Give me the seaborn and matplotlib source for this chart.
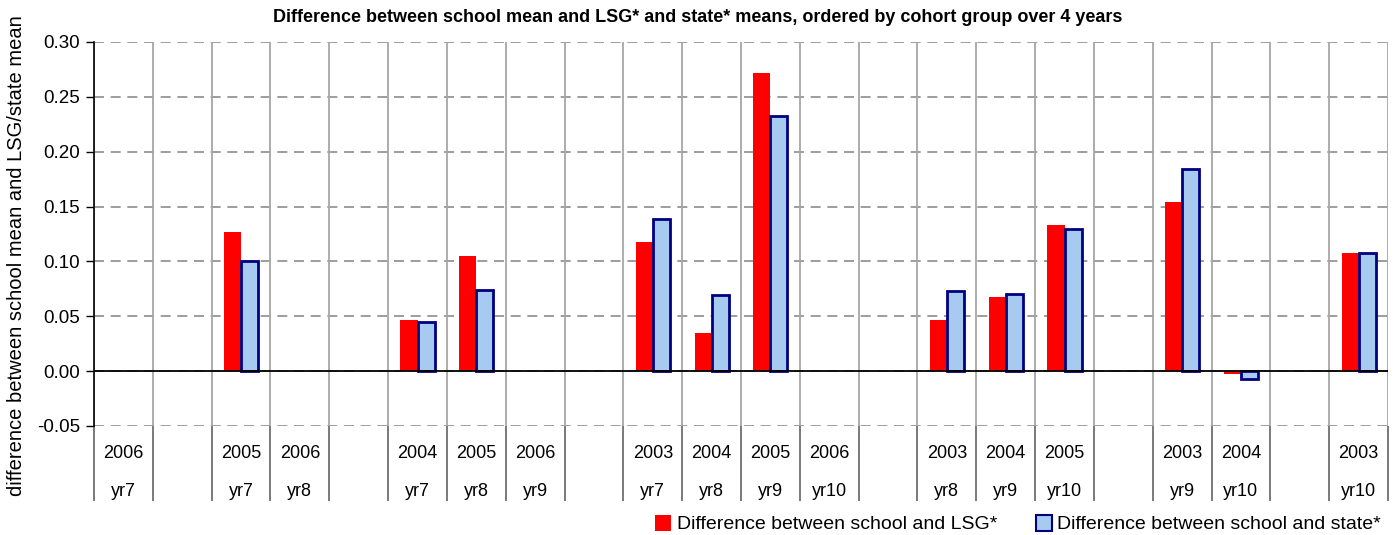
import numpy as np
import pandas as pd
import matplotlib
matplotlib.use("Agg")
import matplotlib.pyplot as plt
import matplotlib.transforms as mtransforms
from matplotlib.patches import Patch
import seaborn as sns

# cohort slots (blank slots separate the cohort groups)
years = ["2006", "", "2005", "2006", "", "2004", "2005", "2006", "", "2003", "2004",
         "2005", "2006", "", "2003", "2004", "2005", "", "2003", "2004", "", "2003"]
levels = ["yr7", "", "yr7", "yr8", "", "yr7", "yr8", "yr9", "", "yr7", "yr8",
          "yr9", "yr10", "", "yr8", "yr9", "yr10", "", "yr9", "yr10", "", "yr10"]
lsg = [np.nan, np.nan, 0.127, np.nan, np.nan, 0.047, 0.105, np.nan, np.nan, 0.118, 0.035,
       0.272, np.nan, np.nan, 0.047, 0.068, 0.133, np.nan, 0.154, -0.003, np.nan, 0.108]
state = [np.nan, np.nan, 0.100, np.nan, np.nan, 0.045, 0.074, np.nan, np.nan, 0.139, 0.069,
         0.233, np.nan, np.nan, 0.073, 0.070, 0.130, np.nan, 0.184, -0.007, np.nan, 0.108]
series_names = ["Difference between school and LSG*", "Difference between school and state*"]

slots = [f"s{i}" for i in range(len(years))]
df = pd.DataFrame({
    "slot": slots * 2,
    "value": lsg + state,
    "series": [series_names[0]] * len(slots) + [series_names[1]] * len(slots),
})

sns.set_style("white")
plt.rcParams["font.family"] = ["Liberation Sans", "DejaVu Sans"]
plt.rcParams["text.color"] = "black"
plt.rcParams["axes.labelcolor"] = "black"
plt.rcParams["ytick.color"] = "black"

red = "#FF0000"
blue = "#A6CAF0"
navy = "#000080"

fig = plt.figure(figsize=(13.96, 5.35), dpi=100)
ax = fig.add_axes([94 / 1396, 1 - 426 / 535, (1388 - 94) / 1396, (426 - 42) / 535])

sns.barplot(data=df, x="slot", y="value", hue="series", order=slots,
            hue_order=series_names, palette=[red, blue], saturation=1,
            width=0.58, gap=0, errorbar=None, ax=ax, zorder=3)
if ax.get_legend() is not None:
    ax.get_legend().remove()

for p in ax.containers[0]:
    p.set_linewidth(0)
for p in ax.containers[1]:
    p.set_edgecolor(navy)
    p.set_linewidth(2)

n = len(slots)
ax.set_xlim(-0.5, n - 0.5)
ax.set_ylim(-0.05, 0.30)
yt = np.arange(-0.05, 0.301, 0.05)
ax.set_yticks(yt)
ax.set_yticklabels([f"{v:.2f}" for v in yt], fontsize=13.5, color="black")
ax.yaxis.grid(True, color="#8c8c8c", linestyle=(0, (6, 4)), linewidth=1.2)
ax.axhline(0, color="black", linewidth=1.3, zorder=4)

# category boundaries: light lines inside, darker separators below
bounds = np.arange(-0.5, n, 1.0)
ax.vlines(bounds, -0.05, 0.30, color="#a6a6a6", linewidth=1.3, zorder=1)
ax.set_xticks(bounds, minor=True)
ax.set_xticks([])
ax.tick_params(axis="x", which="minor", length=54, width=1.1, color="#555555",
               direction="out", bottom=True)
ax.tick_params(axis="y", which="major", length=6, width=1, color="black",
               direction="out", left=True, pad=4)

for s in ["top", "right", "bottom"]:
    ax.spines[s].set_visible(False)
ax.spines["left"].set_color("black")
ax.spines["left"].set_linewidth(1.2)

trans = mtransforms.blended_transform_factory(ax.transData, ax.transAxes)
for i in range(n):
    ax.text(i, -27 / 384, years[i], transform=trans, ha="center", va="center", fontsize=13)
    ax.text(i, -65 / 384, levels[i], transform=trans, ha="center", va="center", fontsize=13)

ax.set_xlabel("")
ax.set_ylabel("difference between school mean and LSG/state mean", fontsize=14.5)
ax.yaxis.set_label_coords(-68 / 1294, (426 - 256) / 384)

fig.text(0.5, 1 - 17 / 535,
         "Difference between school mean and LSG* and state* means, ordered by cohort group over 4 years",
         ha="center", va="center", fontsize=13, fontweight="bold")

handles = [Patch(facecolor=red, edgecolor="none"),
           Patch(facecolor=blue, edgecolor=navy, linewidth=1.5)]
fig.legend(handles, series_names, loc="center right", bbox_to_anchor=(0.995, 1 - 524 / 535),
           ncol=2, frameon=False, fontsize=14, handlelength=0.8, handleheight=0.9,
           handletextpad=0.3, columnspacing=2.0, borderaxespad=0)

fig.savefig("out.png", dpi=100)
